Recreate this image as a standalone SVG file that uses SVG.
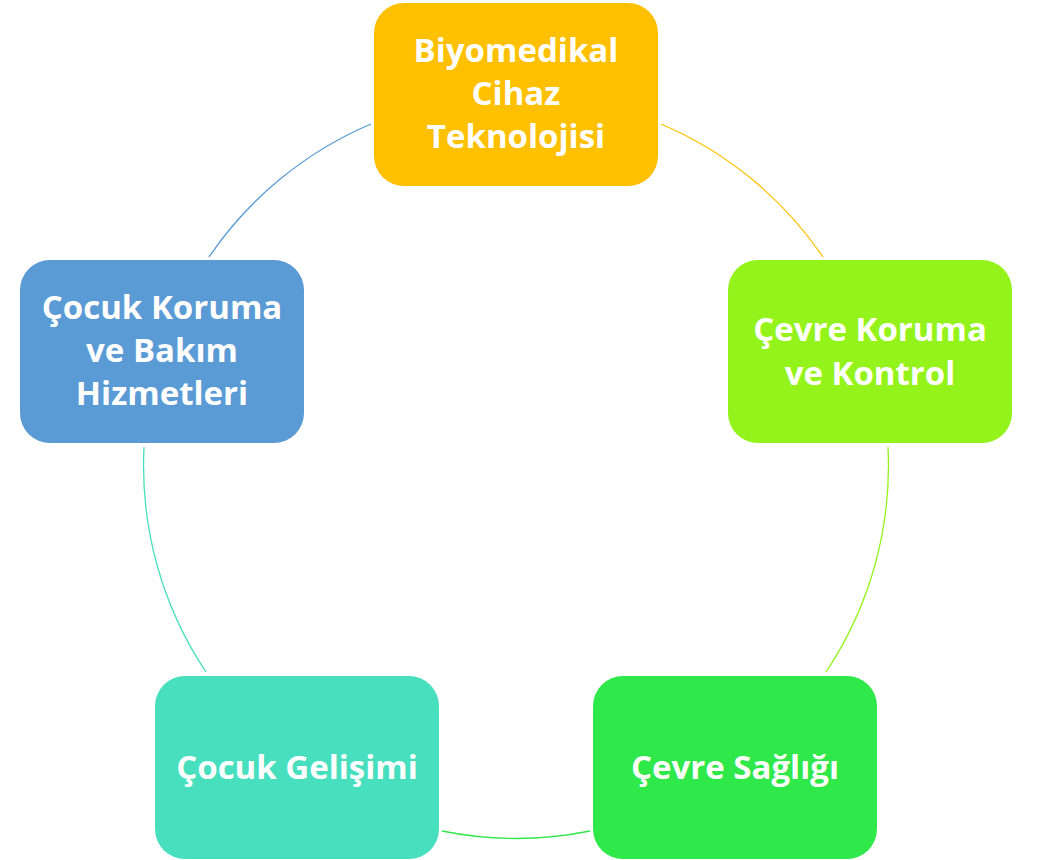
<svg xmlns="http://www.w3.org/2000/svg" width="1041" height="860" viewBox="0 0 1041 860">
<style>
.box{stroke:none}
.lbl{font-family:"Open Sans",Lato,"Liberation Sans",sans-serif;font-weight:700;font-size:33px;fill:#FFFFFF;text-anchor:middle}
.arc{fill:none;stroke-width:1.3}
</style>
<rect width="1041" height="860" fill="#FFFFFF"/>
<g id="connectors">
<path class="arc" stroke="#FFC000" d="M661,124 A372,372 0 0 1 823,257"/>
<path class="arc" stroke="#95F31C" d="M888,447 A372,372 0 0 1 826,672"/>
<path class="arc" stroke="#2FE84A" d="M590,831 A372,372 0 0 1 442,831"/>
<path class="arc" stroke="#48DFBF" d="M206,672 A372,372 0 0 1 144,447"/>
<path class="arc" stroke="#5B9BD5" d="M209,257 A372,372 0 0 1 371,124"/>
</g>
<g id="node-biyomedikal">
<rect class="box" x="374" y="3" width="284" height="183" rx="30" fill="#FFC000"/>
<text class="lbl" x="516" y="62">Biyomedikal</text>
<text class="lbl" x="516" y="105">Cihaz</text>
<text class="lbl" x="516" y="148">Teknolojisi</text>
</g>
<g id="node-cevre-koruma">
<rect class="box" x="728" y="260" width="284" height="183" rx="30" fill="#95F31C"/>
<text class="lbl" x="870" y="341">Çevre Koruma</text>
<text class="lbl" x="870" y="385">ve Kontrol</text>
</g>
<g id="node-cevre-sagligi">
<rect class="box" x="593" y="676" width="284" height="183" rx="30" fill="#2FE84A"/>
<text class="lbl" x="735" y="779">Çevre Sağlığı</text>
</g>
<g id="node-cocuk-gelisimi">
<rect class="box" x="155" y="676" width="284" height="183" rx="30" fill="#48DFBF"/>
<text class="lbl" x="297" y="779">Çocuk Gelişimi</text>
</g>
<g id="node-cocuk-koruma">
<rect class="box" x="20" y="260" width="284" height="183" rx="30" fill="#5B9BD5"/>
<text class="lbl" x="162" y="319">Çocuk Koruma</text>
<text class="lbl" x="162" y="362">ve Bakım</text>
<text class="lbl" x="162" y="405">Hizmetleri</text>
</g>
</svg>
